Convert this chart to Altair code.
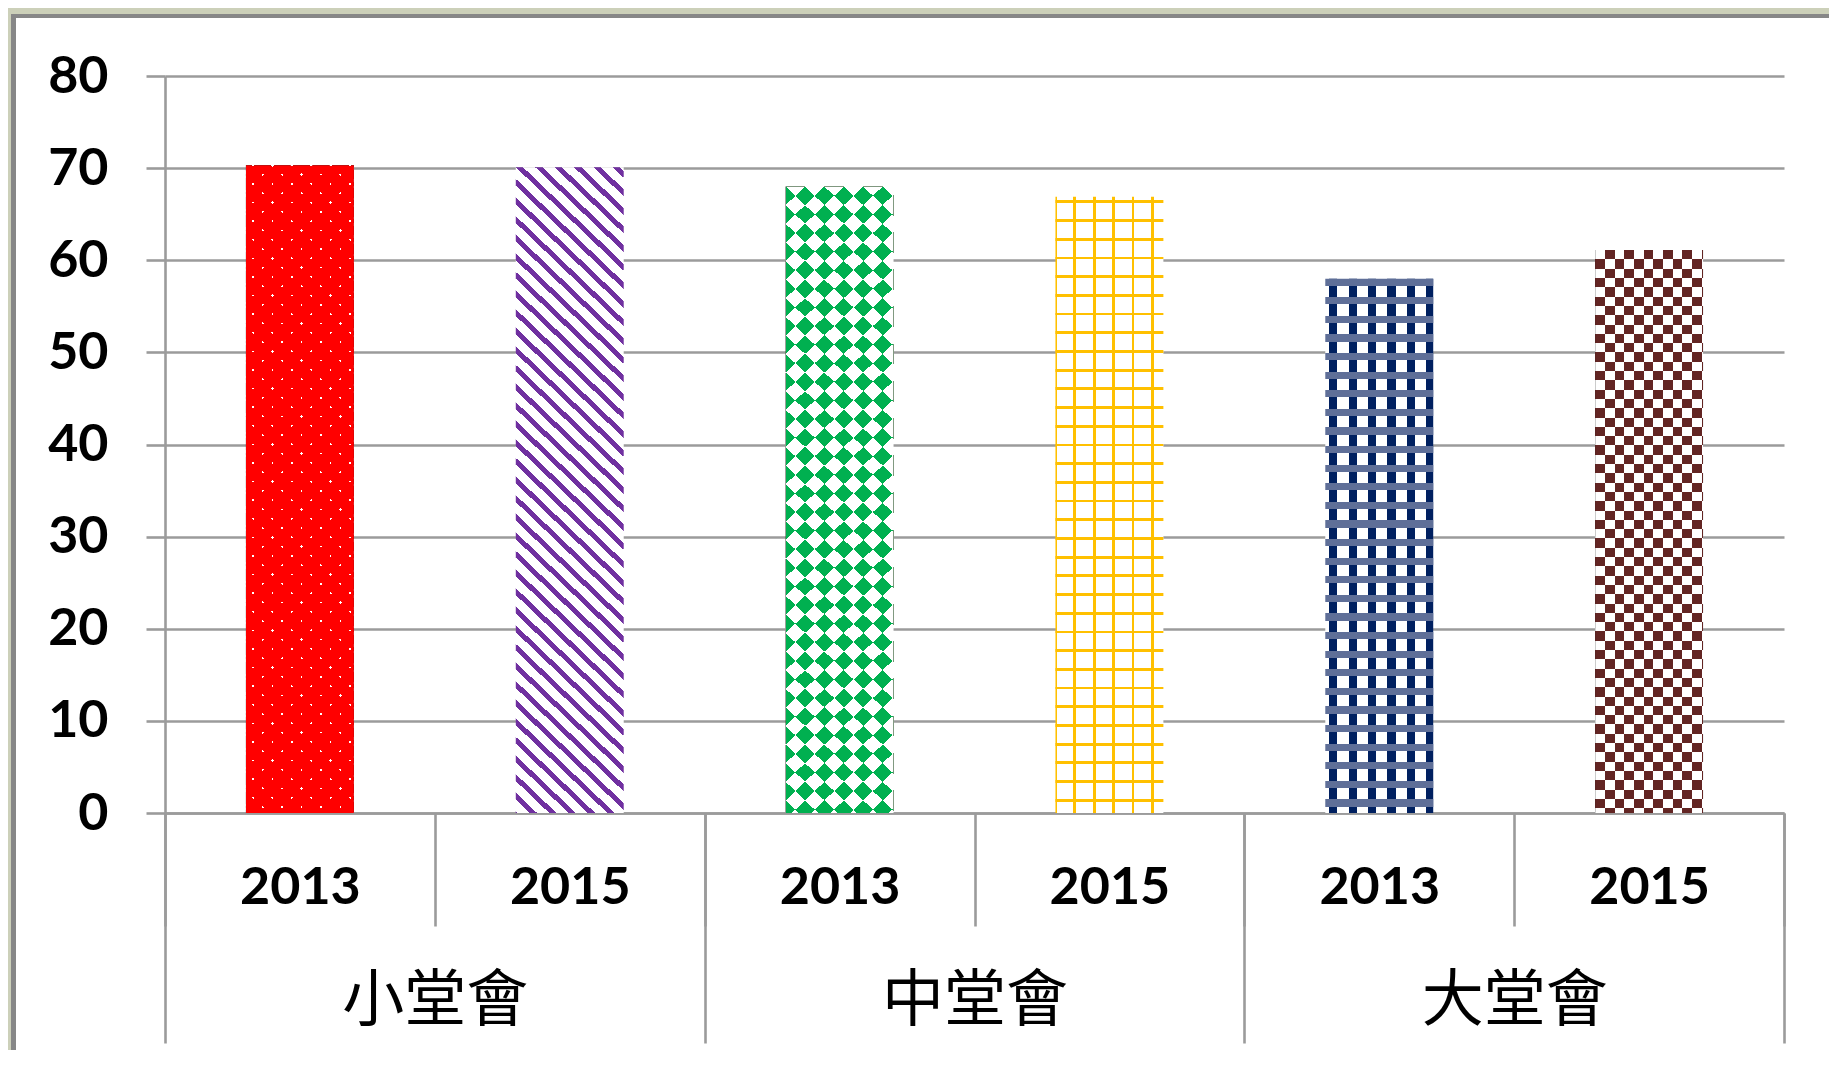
import math
import altair as alt
import pandas as pd

# ---------------- data ----------------
groups = ["小堂會", "中堂會", "大堂會"]
years = ["2013", "2015"]
values_2013 = [70.3, 68.0, 58.0]
values_2015 = [70.1, 66.9, 61.1]
y_ticks = [0, 10, 20, 30, 40, 50, 60, 70, 80]

rows = []
for i, g in enumerate(groups):
    for yr, vals in zip(years, [values_2013, values_2015]):
        rows.append({"key": f"{g}|{yr}", "group": g, "year": yr, "value": vals[i]})
df = pd.DataFrame(rows)
keys = list(df["key"])

# ---------------- layout ----------------
W, H = 1619, 737
YMAX = 80
BAND = W / len(keys)
BAR_REL = 0.4
BAR_W = BAR_REL * BAND
GRID = "#9b9b9b"
CLEAR = "rgba(255,255,255,0)"


def stripes(w, h, ax, by, duty, on, off, offset=0.0):
    """Linear gradient giving repeating stripes; phase = ax*x + by*y (cycles, px)."""
    corners = [(0, 0), (1, 0), (0, 1), (1, 1)]
    phis = [ax * u * w + by * v * h for u, v in corners]
    pmin, pmax = min(phis), max(phis)
    n = pmax - pmin
    u1, v1 = corners[phis.index(pmin)]
    a = ax * w / n
    b = by * h / n
    s = a * a + b * b
    x2, y2 = u1 + a / s, v1 + b / s

    def color_at(p):
        f = (p - offset) % 1.0
        return on if f < duty else off

    brks = []
    for k in range(math.floor(pmin - offset) - 1, math.ceil(pmax - offset) + 2):
        brks.append((k + offset, on))
        brks.append((k + offset + duty, off))
    brks.sort(key=lambda t: t[0])
    cur = color_at(pmin)
    stops = [(0.0, cur)]
    for p, col in brks:
        if pmin < p < pmax:
            t = (p - pmin) / n
            stops.append((t, cur))
            cur = col
            stops.append((t, cur))
    stops.append((1.0, cur))
    return {
        "gradient": "linear",
        "x1": u1, "y1": v1, "x2": x2, "y2": y2,
        "stops": [{"offset": round(t, 6), "color": c} for t, c in stops],
    }


x_enc = alt.X(
    "key:N",
    scale=alt.Scale(domain=keys, paddingInner=0, paddingOuter=0),
    axis=alt.Axis(
        labelExpr="split(datum.label, '|')[1]",
        labelAngle=0,
        labelFont="Lato", labelFontWeight="bold", labelFontSize=52, labelColor="black",
        labelBaseline="middle", labelPadding=-39, labelLimit=0,
        tickBand="extent", tickSize=113, tickColor=GRID, tickWidth=2.6,
        domainColor=GRID, domainWidth=2.6, grid=False,
    ),
    title=None,
)
y_enc = alt.Y(
    "value:Q",
    scale=alt.Scale(domain=[0, YMAX], nice=False, zero=True),
    axis=alt.Axis(
        values=y_ticks, grid=True, gridColor=GRID, gridWidth=2.6,
        domainColor=GRID, domainWidth=2.6,
        tickColor=GRID, tickWidth=2.6, tickSize=19,
        labelFont="Lato", labelFontWeight="bold", labelFontSize=52, labelColor="black",
        labelPadding=38,
    ),
    title=None,
)


def bar(key, fill, blend=None):
    kw = dict(width=alt.RelativeBandSize(BAR_REL), fill=fill)
    if blend:
        kw["blend"] = blend
    return (
        alt.Chart(df)
        .transform_filter(alt.datum.key == key)
        .mark_bar(**kw)
        .encode(x=x_enc, y=y_enc)
    )


def hpx(v):
    return v * H / YMAX


vals = list(df["value"])
PX, PY = 19.4, 18.6
layers = []

# 1: red with white staggered dots
k, h = keys[0], hpx(vals[0])
layers += [
    bar(k, stripes(BAR_W, h, 1 / PX, 1 / PY, 0.13, "white", "black", 0.3)),
    bar(k, stripes(BAR_W, h, 1 / PX, -1 / PY, 0.13, "white", "black", 0.3), "darken"),
    bar(k, "#ff0000", "lighten"),
]
# 2: purple downward diagonal stripes
k, h = keys[1], hpx(vals[1])
layers += [bar(k, stripes(BAR_W, h, 1 / PX, -1 / PY, 0.375, "#7030a0", "white"))]
# 3: green diamonds (rotated checker)
k, h = keys[2], hpx(vals[2])
layers += [
    bar(k, stripes(BAR_W, h, 1 / (2 * PX), 1 / (2 * PY), 0.5, "black", "white")),
    bar(k, stripes(BAR_W, h, 1 / (2 * PX), -1 / (2 * PY), 0.5, "white", "black"), "difference"),
    bar(k, "#00b050", "lighten"),
]
# 4: yellow grid
k, h = keys[3], hpx(vals[3])
layers += [
    bar(k, stripes(BAR_W, h, 1 / PX, 0, 0.14, "#ffc000", "white", -0.07)),
    bar(k, stripes(BAR_W, h, 0, 1 / 18.7, 0.15, "#ffc000", CLEAR, 0.2)),
]
# 5: navy weave
k, h = keys[4], hpx(vals[4])
layers += [
    bar(k, stripes(BAR_W, h, 1 / PX, 0, 0.42, "#002060", "white", 0.2)),
    bar(k, stripes(BAR_W, h, 0, 1 / PY, 0.38, "#5f6f98", CLEAR, 0.0)),
]
# 6: brown checkerboard
k, h = keys[5], hpx(vals[5])
layers += [
    bar(k, stripes(BAR_W, h, 1 / PX, 0, 0.5, "black", "white", 0.0)),
    bar(k, stripes(BAR_W, h, 0, 1 / PY, 0.5, "white", "black", 0.0), "difference"),
    bar(k, "#632523", "lighten"),
]

bars = alt.layer(*layers)

group_axis = (
    alt.Chart(df)
    .mark_bar(opacity=0)
    .encode(
        x=alt.X(
            "group:N",
            scale=alt.Scale(domain=groups, paddingInner=0, paddingOuter=0),
            axis=alt.Axis(
                orient="bottom", domain=False, grid=False,
                tickBand="extent", tickSize=230, tickColor=GRID, tickWidth=2.6,
                labelAngle=0, labelFont="Noto Sans CJK TC", labelFontSize=62,
                labelFontWeight="normal", labelColor="black",
                labelBaseline="middle", labelPadding=-42, labelLimit=0,
            ),
            title=None,
        )
    )
)

deco = alt.Data(values=[{"a": 1}])


def px_rect(x, x2, y, y2, color):
    return alt.Chart(deco).mark_rect(fill=color).encode(
        x=alt.value(x), x2=alt.value(x2), y=alt.value(y), y2=alt.value(y2)
    )


BG = "#ccd0b9"
FRAME = "#878787"
frame = [
    px_rect(-160, 1680, -70, -62, BG),
    px_rect(-160, -154, -70, 990, BG),
    px_rect(-154, 1680, -62, -58, FRAME),
    px_rect(-154, -149, -62, 990, FRAME),
]

chart = (
    alt.layer(*frame, bars, group_axis)
    .resolve_scale(x="independent")
    .properties(
        width=W,
        height=H,
        padding={"left": 157, "top": 68, "right": 45, "bottom": 237},
        autosize=alt.AutoSizeParams(type="none"),
        background="white",
    )
    .configure_view(stroke=None)
)

chart.save("out.html", embed_options={"renderer": "svg", "actions": False})
